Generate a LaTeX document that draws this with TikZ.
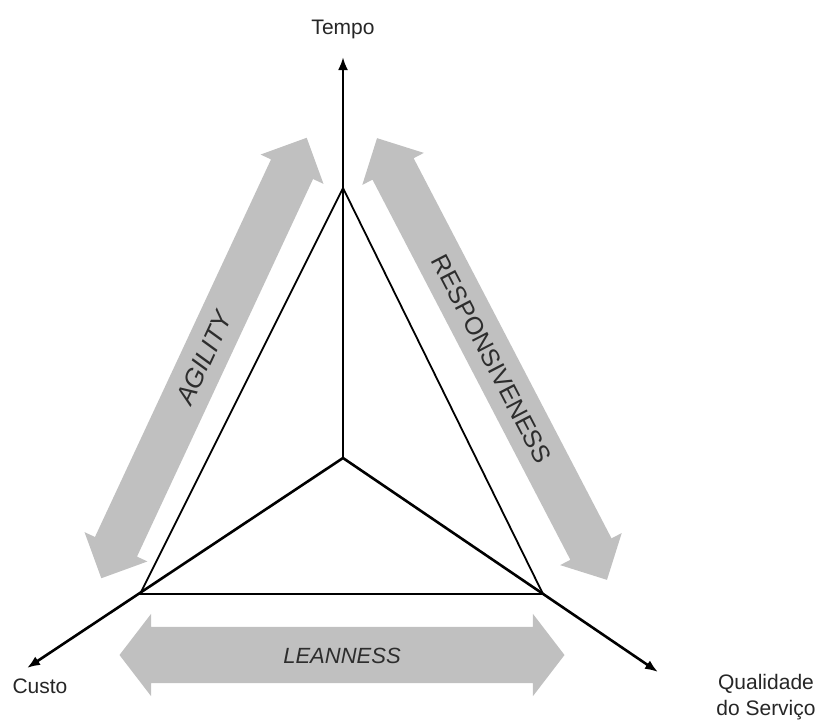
\documentclass[tikz,border=0pt]{standalone}
\usepackage{fontspec}
\setmainfont{Liberation Sans}
\usetikzlibrary{arrows.meta}
\usetikzlibrary{shapes.arrows}
\definecolor{bandgray}{RGB}{192,192,192}
\definecolor{inkgray}{RGB}{45,45,45}
\pgfdeclarelayer{nodelayer}
\pgfdeclarelayer{edgelayer}
\pgfsetlayers{edgelayer,nodelayer,main}
\tikzset{axis/.style={line width=2.6pt, -{Latex[length=13pt,width=10pt]}}}
\tikzset{side/.style={line width=1.8pt, line join=miter}}
\tikzset{band/.style={double arrow, fill=bandgray, draw=none, text=inkgray,
inner xsep=0pt, text depth=0pt}}
\tikzset{axislabel/.style={inner sep=0pt, text=black!85, font=\fontsize{21}{26}\selectfont}}
\tikzstyle{none}=[inner sep=0pt]

\begin{document}
\begin{tikzpicture}[x=1pt, y=-1pt]
        \useasboundingbox (0,0) rectangle (824,726);
        \begin{pgfonlayer}{nodelayer}
            \coordinate (0) at (343, 458);
            \coordinate (1) at (343, 188);
            \coordinate (2) at (140, 594);
            \coordinate (3) at (543, 594);
            \coordinate (4) at (343, 57);
            \coordinate (5) at (27, 668);
            \coordinate (6) at (658, 672);
            \node [style=axislabel] (7) at (343, 29) {Tempo};
            \node [style=axislabel] (8) at (40, 686) {Custo};
            \node [style=axislabel, align=center] (9) at (766, 697) {Qualidade\\do Serviço};
            \node [style=band, rotate=65, minimum height=486pt, inner ysep=14pt, text height=18pt,
                double arrow head extend=11.5pt, font=\fontsize{26}{26}\selectfont\itshape] (10) at (204, 358) {AGILITY};
            \node [style=band, rotate=-62.5, minimum height=498pt, inner ysep=14pt, text height=18pt,
                double arrow head extend=11.5pt, font=\fontsize{25}{25}\selectfont] (11) at (492, 359) {RESPONSIVENESS};
            \node [style=band, minimum height=445pt, inner ysep=20pt, text height=16pt,
                double arrow head extend=13pt, double arrow tip angle=105,
                font=\fontsize{22}{22}\selectfont\itshape] (12) at (342, 655) {LEANNESS};
        \end{pgfonlayer}
        \begin{pgfonlayer}{edgelayer}
            \draw [style=side] (1) -- (2) -- (3) -- cycle;
            \draw [style=axis] (0) to (4);
            \draw [style=axis] (0) to (5);
            \draw [style=axis] (0) to (6);
        \end{pgfonlayer}
\end{tikzpicture}
\end{document}
